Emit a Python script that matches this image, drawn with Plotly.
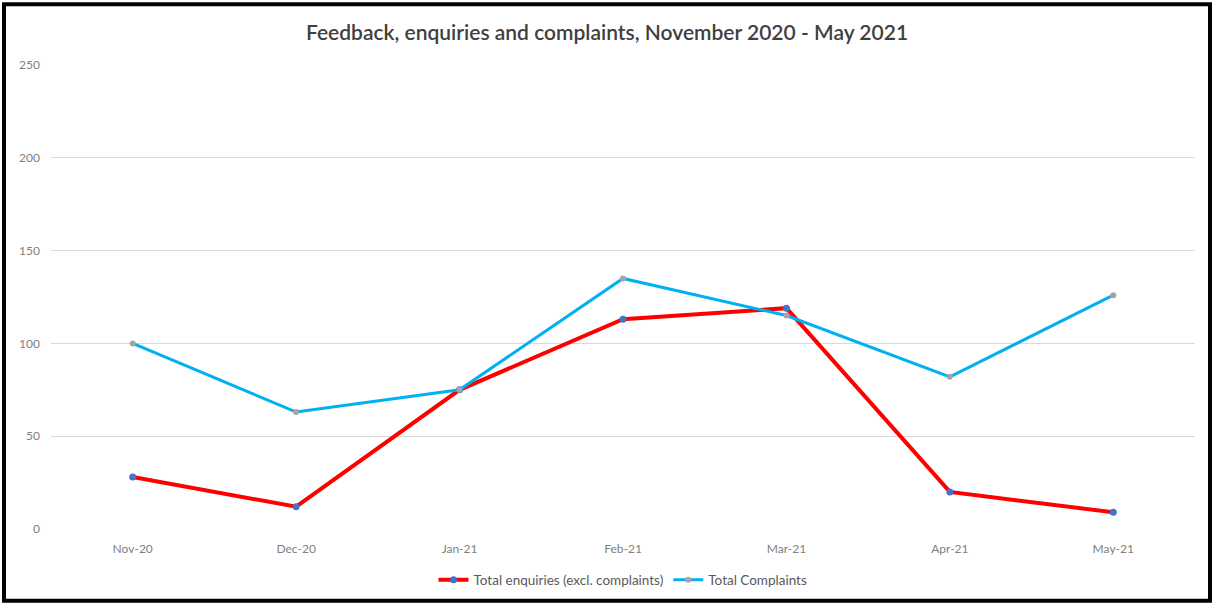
import plotly.graph_objects as go

months = ["Nov-20", "Dec-20", "Jan-21", "Feb-21", "Mar-21", "Apr-21", "May-21"]
enquiries = [28, 12, 75, 113, 119, 20, 9]
complaints = [100, 63, 75, 135, 115, 82, 126]
y_ticks = [0, 50, 100, 150, 200, 250]

FONT = "Lato"

fig = go.Figure()
fig.add_trace(go.Scatter(
    x=months, y=enquiries, mode="lines+markers",
    name="Total enquiries (excl. complaints)",
    line=dict(color="#FF0000", width=4),
    marker=dict(color="#4472C4", size=7),
))
fig.add_trace(go.Scatter(
    x=months, y=complaints, mode="lines+markers",
    name="Total Complaints",
    line=dict(color="#00B0F0", width=3),
    marker=dict(color="#A5A5A5", size=6),
))

W, H = 1214, 606
L, R, T, B = 51, 19, 65, 76
pw, ph = W - L - R, H - T - B

def px_x(x):
    return (x - L) / pw

def px_y(y):
    return (H - B - y) / ph

fig.update_layout(
    width=W, height=H,
    margin=dict(l=L, r=R, t=T, b=B),
    paper_bgcolor="white", plot_bgcolor="white",
    font=dict(family=FONT, color="#7F7F7F", size=12),
    title=dict(text="Feedback, enquiries and complaints, November 2020 - May 2021",
               x=0.5, xanchor="center", y=1 - 33 / H, yanchor="middle",
               font=dict(family=FONT, size=21, color="#404040", weight=600)),
    xaxis=dict(type="category", range=[-0.5, 6.5], showgrid=False, showline=False,
               zeroline=False, ticks="", tickfont=dict(size=12, color="#7F7F7F"),
               ticklabelstandoff=11),
    yaxis=dict(range=[0, 250], tickvals=y_ticks, showgrid=True, gridcolor="#D9D9D9",
               gridwidth=1, zeroline=False, showline=False, ticks="",
               tickfont=dict(size=12, color="#7F7F7F"), ticklabelstandoff=10),
    legend=dict(orientation="h", x=0.5, xanchor="center", y=px_y(580), yanchor="middle",
                font=dict(size=13.5, color="#595959"), itemwidth=30, tracegroupgap=0),
    showlegend=True,
)

fig.add_shape(type="rect", xref="paper", yref="paper",
              x0=px_x(4), x1=px_x(1210), y0=px_y(602), y1=px_y(4),
              line=dict(color="black", width=4), fillcolor="rgba(0,0,0,0)", layer="above")

fig.write_html("out.html", config={"displayModeBar": False},
               post_script="document.body.style.margin='0';document.body.style.overflow='hidden';")
